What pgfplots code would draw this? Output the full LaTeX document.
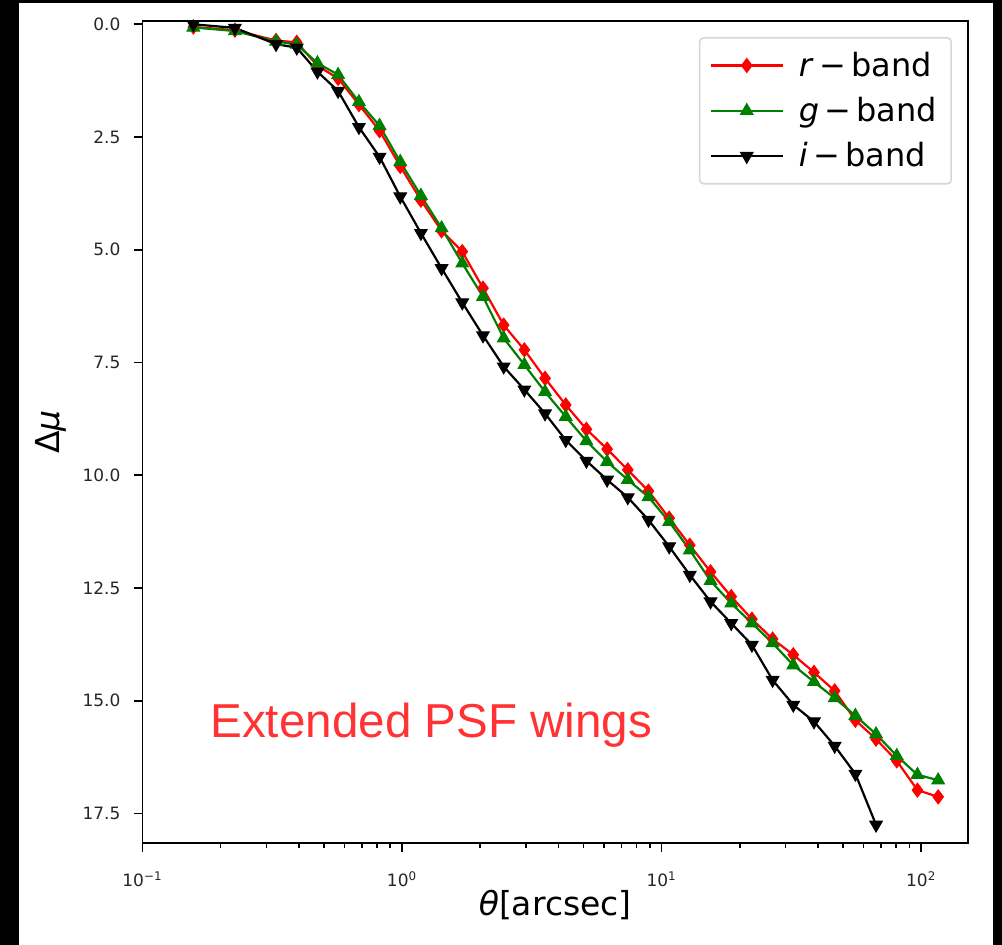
\documentclass[border=0pt]{standalone}
\usepackage{pgfplots}
\usepackage{pgfplotstable}
\pgfplotsset{compat=1.18}
\usepackage{fontspec}
\setmainfont{DejaVu Sans}
\newfontfamily\annotfont{Liberation Sans}
\definecolor{mplgreen}{RGB}{0,128,0}
\definecolor{annot}{RGB}{255,51,51}
\definecolor{legframe}{RGB}{214,214,214}

\pgfplotstableread{
x r g
0.157 0.06 0.07
0.227 0.13 0.15
0.327 0.36 0.38
0.393 0.40 0.45
0.472 0.92 0.86
0.567 1.20 1.12
0.682 1.78 1.72
0.819 2.36 2.25
0.984 3.15 3.05
1.182 3.90 3.80
1.420 4.58 4.52
1.706 5.04 5.30
2.050 5.85 6.04
2.463 6.67 6.96
2.959 7.22 7.55
3.555 7.85 8.15
4.271 8.44 8.70
5.131 8.98 9.24
6.165 9.42 9.70
7.406 9.88 10.10
8.898 10.35 10.48
10.69 10.95 11.03
12.84 11.55 11.66
15.43 12.14 12.34
18.54 12.69 12.84
22.27 13.19 13.28
26.76 13.63 13.72
32.15 13.98 14.21
38.63 14.37 14.58
46.41 14.78 14.94
55.76 15.43 15.33
66.99 15.85 15.74
80.48 16.33 16.22
96.69 16.98 16.64
116.2 17.13 16.76
}\rgtable

\pgfplotstableread{
x i
0.157 0.00
0.227 0.08
0.327 0.44
0.393 0.52
0.472 1.05
0.567 1.48
0.682 2.28
0.819 2.94
0.984 3.82
1.182 4.63
1.420 5.41
1.706 6.17
2.050 6.90
2.463 7.59
2.959 8.10
3.555 8.63
4.271 9.22
5.131 9.68
6.165 10.10
7.406 10.49
8.898 10.99
10.69 11.58
12.84 12.21
15.43 12.80
18.54 13.28
22.27 13.76
26.76 14.54
32.15 15.09
38.63 15.46
46.41 16.00
55.76 16.62
66.99 17.75
}\itable

\begin{document}
\begin{tikzpicture}
\fill[black] (0,0) rectangle (501pt,472.5pt);
\fill[white] (9.5pt,0) rectangle (496.5pt,471pt);
\begin{axis}[
  at={(71.25pt,51.15pt)}, anchor=south west,
  scale only axis, width=412.75pt, height=410.85pt,
  xmode=log, xmin=0.1, xmax=151.4,
  y dir=reverse, ymin=-0.073, ymax=18.146,
  xtick={0.1,1,10,100},
  xticklabels={10\textsuperscript{−1},10\textsuperscript{0},10\textsuperscript{1},10\textsuperscript{2}},
  minor xtick={0.2,0.3,0.4,0.5,0.6,0.7,0.8,0.9,2,3,4,5,6,7,8,9,20,30,40,50,60,70,80,90},
  ytick={0,2.5,5,7.5,10,12.5,15,17.5},
  yticklabels={0.0,2.5,5.0,7.5,10.0,12.5,15.0,17.5},
  xtick pos=bottom, ytick pos=left,
  tick align=outside,
  major tick length=4.5pt, minor tick length=2.5pt,
  tick style={line width=0.8pt, black},
  axis line style={line width=0.85pt},
  ticklabel style={font=\fontsize{8.5pt}{10pt}\selectfont, text=black!85},
  xticklabel style={yshift=-6.5pt},
  yticklabel style={xshift=-3pt},
  xlabel={\textit{θ}[arcsec]},
  ylabel={Δ\textit{μ}},
  label style={font=\fontsize{16.5pt}{19pt}\selectfont},
  xlabel style={at={(axis description cs:0.5,-0.088)}, anchor=base},
  ylabel style={at={(axis description cs:-0.101,0.5)}, anchor=base},
  legend cell align=left,
  legend style={at={(axis description cs:0.9806,0.9805)}, anchor=north east,
    draw=legframe, rounded corners=2pt, line width=0.8pt, fill=white,
    font=\fontsize{16pt}{19pt}\selectfont, inner xsep=5pt, inner ysep=5pt,
    /tikz/row sep=5pt, /tikz/column sep=5.5pt},
  legend image code/.code={\draw[mark repeat=2,mark phase=2] plot coordinates {(0pt,0pt) (18pt,0pt) (36pt,0pt)};},
]
\addplot[red, line width=1.1pt, mark=diamond*, mark size=3.5pt, mark options={fill=red, line width=0.5pt}] table[x=x,y=r] {\rgtable};
\addlegendentry{\textit{r}\,−\,band}
\addplot[mplgreen, line width=1.1pt, mark=triangle*, mark size=3.6pt, mark options={fill=mplgreen, line width=0.5pt}] table[x=x,y=g] {\rgtable};
\addlegendentry{\textit{g}\,−\,band}
\addplot[black, line width=1.1pt, mark=triangle*, mark size=3.6pt, mark options={fill=black, line width=0.5pt, rotate=180}] table[x=x,y=i] {\itable};
\addlegendentry{\textit{i}\,−\,band}
\node[anchor=base west, inner sep=0pt, text=annot, font=\annotfont\fontsize{23.8pt}{28pt}\selectfont] at (axis description cs:0.0818,0.1286) {Extended PSF wings};
\end{axis}
\pgfresetboundingbox
\path[use as bounding box] (0,0) rectangle (501pt,472.5pt);
\end{tikzpicture}
\end{document}
